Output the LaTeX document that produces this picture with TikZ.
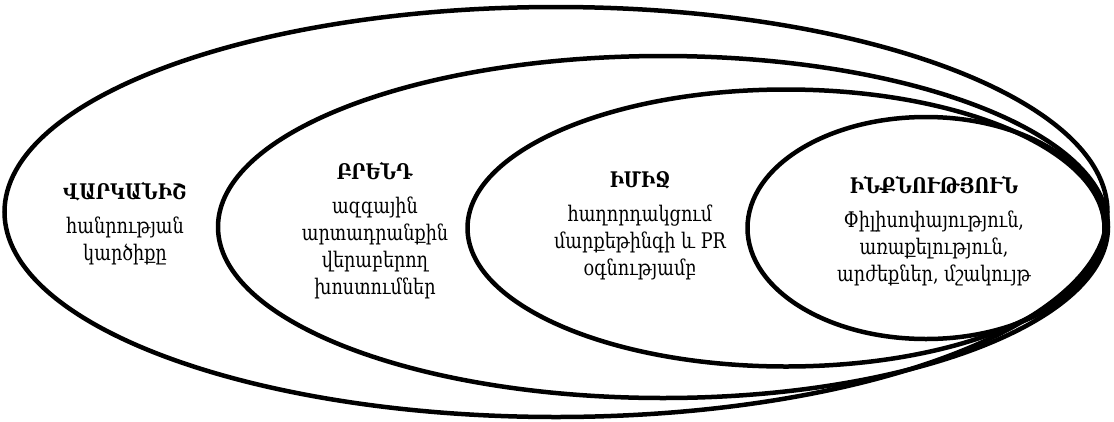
\documentclass[tikz,border=0pt]{standalone}
\usepackage{fontspec}
\setmainfont[FakeStretch=0.82]{DejaVu Serif}
\usepackage{tikz}
\usetikzlibrary{shapes.geometric, positioning}
\tikzset{
    ring/.style={ellipse, draw=black, line width=4.5pt, inner sep=0pt},
    txt/.style={align=center, font=\fontsize{21.5}{27}\selectfont, inner sep=0pt},
}
\newcommand{\ttl}[1]{\textbf{#1}\\[7pt]}

\begin{document}
\begin{tikzpicture}[x=1pt, y=-1pt]
  \useasboundingbox (0,0) rectangle (1114,421);

  % nested ellipses, all touching on the right
  \node[ring, minimum width=1103pt, minimum height=410pt] (market) at (556,212) {};
  \node[ring, minimum width=890pt, minimum height=342pt] (brand) at (663,227) {};
  \node[ring, minimum width=637pt, minimum height=277pt] (image) at (786,228) {};
  \node[ring, minimum width=357pt, minimum height=222pt] (self) at (926,228) {};

  % labels
  \node[txt] (marketTxt) at (125,224)
        {\ttl{ՎԱՐԿԱՆԻՇ}հանրության\\կարծիքը};
  \node[txt] (brandTxt) at (375,231)
        {\ttl{ԲՐԵՆԴ}ազգային\\արտադրանքին\\վերաբերող\\խոստումներ};
  \node[txt] (imageTxt) at (640,226)
        {\ttl{ԻՄԻՋ}հաղորդակցում\\մարքեթինգի և PR\\օգնությամբ};
  \node[txt] (selfTxt) at (934,231)
        {\ttl{ԻՆՔՆՈՒԹՅՈՒՆ}Փիլիսոփայություն,\\առաքելություն,\\արժեքներ, մշակույթ};

\end{tikzpicture}
\end{document}
